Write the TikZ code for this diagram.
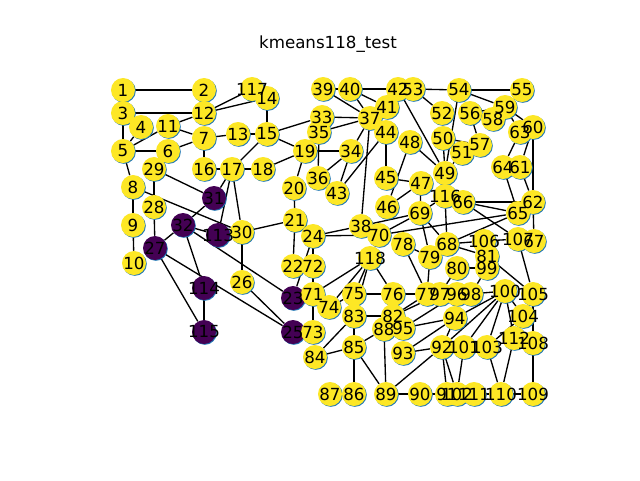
\documentclass[tikz,border=0pt]{standalone}
\usepackage{fontspec}
\setmainfont{DejaVu Sans}
\pgfdeclarelayer{edges}
\pgfdeclarelayer{shadows}
\pgfdeclarelayer{labels}
\pgfsetlayers{edges,shadows,main,labels}
\definecolor{vy}{RGB}{253,231,37}
\definecolor{vp}{RGB}{68,1,84}
\definecolor{mblue}{RGB}{31,119,180}
\begin{document}
\begin{tikzpicture}[x=0.75pt,y=-0.75pt,
  ndY/.style={circle,fill=vy,minimum size=18pt,inner sep=0pt},
  ndP/.style={circle,fill=vp,minimum size=18pt,inner sep=0pt},
  lbl/.style={font=\fontsize{12.5}{15}\selectfont,inner sep=0pt},
  edge/.style={line width=1pt,black}]
\useasboundingbox (0,0) rectangle (640,480);
\begin{pgfonlayer}{edges}
\fill[white] (0,0) rectangle (640,480);
\end{pgfonlayer}
\node[lbl] (title) at (328,44) {kmeans118\_test};
\foreach \n/\x/\y/\c in {1/123/90/Y, 2/204/90/Y, 3/123/113/Y, 4/141/127/Y, 5/123/151/Y, 6/168/151/Y, 7/204/138/Y, 8/133/187/Y, 9/133/225/Y, 10/134/263/Y, 11/168/126/Y, 12/204/113/Y, 13/238/134/Y, 14/267/98/Y, 15/267/134/Y, 16/204/169/Y, 17/232/169/Y, 18/263/169/Y, 19/305/151/Y, 20/294/188/Y, 21/295/220/Y, 22/293/266/Y, 23/293/298/P, 24/313/236/Y, 25/293/332/P, 26/242/282/Y, 27/155/248/P, 28/154/207/Y, 29/154/169/Y, 30/242/232/Y, 31/214/198/P, 32/183/225/P, 33/322/117/Y, 34/351/151/Y, 35/319/132/Y, 36/318/178/Y, 37/370/118/Y, 38/361/226/Y, 39/323/89/Y, 40/350/89/Y, 41/387/107/Y, 42/398/89/Y, 43/337/193/Y, 44/386/132/Y, 45/386/178/Y, 46/387/207/Y, 47/421/183/Y, 48/410/142/Y, 49/445/173/Y, 50/443/138/Y, 51/462/153/Y, 52/442/113/Y, 53/413/89/Y, 54/459/90/Y, 55/522/90/Y, 56/470/113/Y, 57/480/145/Y, 58/493/119/Y, 59/505/107/Y, 60/533/127/Y, 61/520/167/Y, 62/533/202/Y, 63/520/132/Y, 64/503/167/Y, 65/518/213/Y, 66/463/202/Y, 67/534/241/Y, 68/447/244/Y, 69/420/213/Y, 70/379/235/Y, 71/313/294/Y, 72/313/266/Y, 73/313/332/Y, 74/329/307/Y, 75/354/294/Y, 76/393/294/Y, 77/427/294/Y, 78/403/244/Y, 79/430/257/Y, 80/457/268/Y, 81/487/256/Y, 82/393/316/Y, 83/354/316/Y, 84/315/357/Y, 85/354/347/Y, 86/354/394/Y, 87/330/394/Y, 88/384/329/Y, 89/386/394/Y, 90/420/394/Y, 91/447/394/Y, 92/442/347/Y, 93/403/353/Y, 94/455/318/Y, 95/403/328/Y, 96/457/294/Y, 97/440/294/Y, 98/471/294/Y, 99/487/268/Y, 100/505/291/Y, 101/464/347/Y, 102/457/394/Y, 103/487/347/Y, 104/523/316/Y, 105/533/294/Y, 106/484/241/Y, 107/518/239/Y, 108/533/343/Y, 109/533/394/Y, 110/501/394/Y, 111/474/394/Y, 112/514/338/Y, 113/218/235/P, 114/204/288/P, 115/204/332/P, 116/445/196/Y, 117/252/89/Y, 118/370/258/Y}{
  \begin{pgfonlayer}{shadows}\fill[mblue] (\x+0.8,\y+0.8) circle[radius=9pt];\end{pgfonlayer}
  \node[nd\c] (n\n) at (\x,\y) {};
  \begin{pgfonlayer}{labels}\node[lbl] (l\n) at (\x,\y) {\n};\end{pgfonlayer}
}
\begin{pgfonlayer}{edges}
\foreach \a/\b in {1/2, 3/12, 3/5, 4/5, 5/11, 11/12, 11/7, 12/117, 12/14, 7/13, 13/15, 14/15, 15/19, 15/33, 5/6, 6/7, 5/8, 7/16, 16/17, 17/18, 17/15, 18/19, 29/28, 29/31, 17/31, 17/113, 17/30, 8/9, 8/30, 32/31, 32/113, 32/23, 27/32, 27/25, 27/115, 32/114, 114/115, 9/10, 28/27, 30/21, 30/26, 26/25, 21/22, 24/71, 24/23, 71/73, 84/85, 19/20, 20/21, 19/34, 35/36, 34/36, 34/43, 44/43, 44/45, 37/34, 37/38, 33/37, 35/37, 39/37, 40/37, 40/41, 39/40, 40/42, 53/54, 54/55, 42/49, 53/52, 48/46, 45/47, 48/49, 47/46, 47/69, 49/50, 54/49, 51/49, 50/57, 56/57, 54/59, 56/59, 59/63, 59/60, 63/64, 60/61, 64/65, 61/62, 60/62, 62/67, 66/62, 66/65, 66/107, 116/68, 69/116, 69/70, 69/68, 69/79, 38/69, 70/65, 65/68, 68/106, 106/107, 68/81, 78/79, 107/105, 81/105, 24/38, 24/70, 118/71, 118/74, 118/75, 118/83, 118/76, 74/75, 78/77, 79/77, 75/76, 76/77, 83/82, 82/77, 82/97, 95/96, 95/94, 83/84, 83/85, 85/88, 85/86, 85/89, 88/89, 89/90, 90/91, 89/92, 93/92, 93/94, 94/92, 94/100, 100/92, 100/101, 100/103, 100/104, 100/112, 104/103, 104/112, 98/100, 80/99, 80/97, 99/98, 105/108, 108/109, 110/109, 111/110, 92/91, 92/102, 101/102, 103/110, 112/110}
  \draw[edge] (n\a) -- (n\b);
\end{pgfonlayer}
\end{tikzpicture}
\end{document}
